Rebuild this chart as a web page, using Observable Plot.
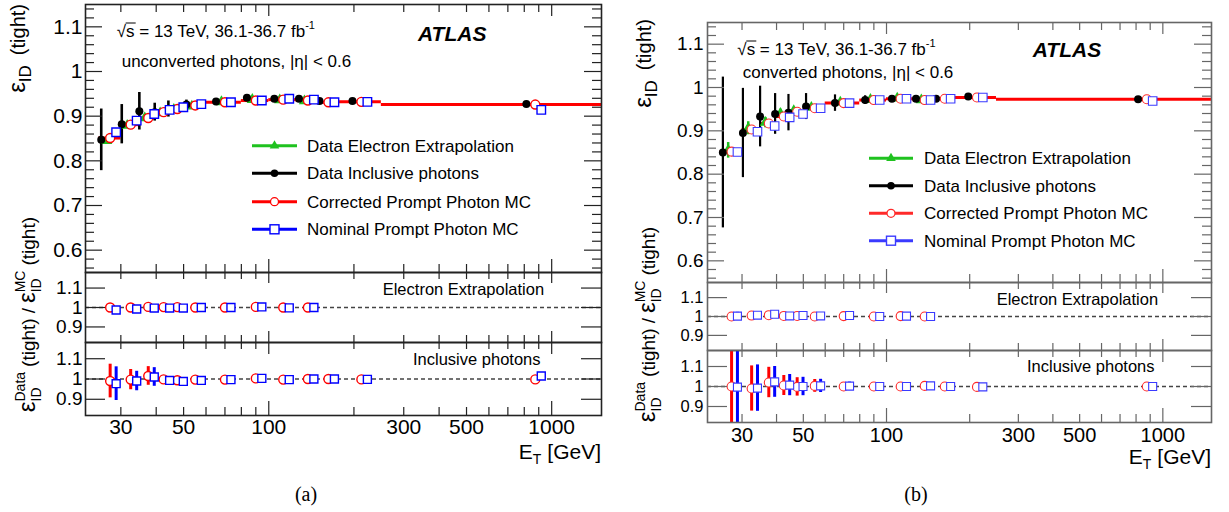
<!DOCTYPE html>
<html><head><meta charset="utf-8">
<script src="https://cdn.jsdelivr.net/npm/d3@7"></script>
<script src="https://cdn.jsdelivr.net/npm/@observablehq/plot@0.6"></script>
<style>
body{margin:0;background:#fff;}
#root{position:relative;width:1229px;height:512px;overflow:hidden;background:#fff;}
</style></head><body><div id="root"></div>
<script>
// ---------- data ----------
const binLo     = [25, 30, 35, 40, 45, 50, 60, 80, 100, 125, 150, 175, 250];
const binHi     = [30, 35, 40, 45, 50, 60, 80, 100, 125, 150, 175, 250, 1500];
const binCenter = [27.5, 32.5, 37.5, 42.5, 47.5, 55, 70, 90, 112.5, 137.5, 162.5, 212.5, 875];

// (a) unconverted photons
const unconvElectron     = [0.845, 0.879, 0.896, 0.907, 0.915, 0.922, 0.932, 0.937, 0.936, 0.934];
const unconvElectronErr  = [0.006, 0.005, 0.004, 0.004, 0.003, 0.003, 0.003, 0.003, 0.003, 0.003];
const unconvInclusive    = [0.847, 0.882, 0.911, 0.909, 0.916, 0.926, 0.933, 0.941, 0.939, 0.939, 0.934, 0.934, 0.927];
const unconvInclusiveErr = [0.069, 0.044, 0.042, 0.020, 0.018, 0.010, 0.004, 0.003, 0.003, 0.003, 0.003, 0.003, 0.003];
const unconvCorrMC       = [0.851, 0.881, 0.896, 0.909, 0.916, 0.924, 0.931, 0.935, 0.937, 0.935, 0.931, 0.932, 0.926];
const unconvNomMC        = [0.864, 0.890, 0.905, 0.914, 0.920, 0.927, 0.931, 0.935, 0.939, 0.937, 0.931, 0.932, 0.914];
const unconvRatioElecCorr = [1.000, 1.000, 1.003, 1.002, 1.002, 1.000, 1.000, 1.003, 1.000, 1.000];
const unconvRatioElecNom  = [0.987, 0.992, 0.997, 0.997, 0.997, 1.000, 1.000, 1.003, 0.998, 1.000];
const unconvRatioInclCorr    = [0.990, 0.997, 1.015, 0.998, 0.994, 0.997, 0.997, 1.003, 0.997, 1.000, 1.000, 0.998, 0.998];
const unconvRatioInclCorrErr = [0.083, 0.050, 0.046, 0.010, 0.008, 0.005, 0.003, 0.003, 0.003, 0.003, 0.003, 0.003, 0.003];
const unconvRatioInclNom     = [0.977, 0.990, 1.010, 0.993, 0.988, 0.993, 0.997, 1.003, 0.997, 1.000, 1.000, 0.998, 1.015];
const unconvRatioInclNomErr  = [0.083, 0.048, 0.046, 0.010, 0.008, 0.005, 0.003, 0.003, 0.003, 0.003, 0.003, 0.003, 0.003];

// (b) converted photons
const convElectron     = [0.855, 0.906, 0.919, 0.940, 0.946, 0.954, 0.966, 0.972, 0.975, 0.971];
const convElectronErr  = [0.018, 0.015, 0.012, 0.010, 0.008, 0.006, 0.005, 0.004, 0.004, 0.004];
const convInclusive    = [0.850, 0.895, 0.933, 0.939, 0.942, 0.956, 0.964, 0.971, 0.974, 0.974, 0.974, 0.979, 0.973];
const convInclusiveErr = [0.174, 0.103, 0.070, 0.047, 0.042, 0.030, 0.019, 0.010, 0.005, 0.005, 0.005, 0.005, 0.005];
const convCorrMC       = [0.852, 0.903, 0.917, 0.933, 0.944, 0.952, 0.964, 0.971, 0.974, 0.971, 0.974, 0.977, 0.973];
const convNomMC        = [0.851, 0.898, 0.911, 0.931, 0.939, 0.952, 0.964, 0.971, 0.974, 0.971, 0.974, 0.977, 0.969];
const convRatioElecCorr    = [1.000, 1.005, 1.007, 1.003, 1.003, 1.000, 1.002, 1.000, 1.002, 1.000];
const convRatioElecCorrErr = [0.020, 0.005, 0.004, 0.003, 0.003, 0.003, 0.003, 0.003, 0.003, 0.003];
const convRatioElecNom     = [1.002, 1.007, 1.012, 1.003, 1.005, 1.003, 1.005, 1.000, 1.002, 1.000];
const convRatioElecNomErr  = [0.020, 0.005, 0.004, 0.003, 0.003, 0.003, 0.003, 0.003, 0.003, 0.003];
const convRatioInclCorr    = [1.000, 0.990, 1.020, 1.005, 0.998, 1.003, 1.000, 1.000, 1.000, 1.003, 1.000, 0.998, 1.000];
const convRatioInclCorrErr = [0.200, 0.113, 0.076, 0.050, 0.046, 0.032, 0.020, 0.008, 0.005, 0.005, 0.005, 0.005, 0.005];
const convRatioInclNom     = [0.997, 0.992, 1.023, 1.007, 1.000, 1.003, 1.002, 1.000, 1.000, 1.003, 1.000, 0.998, 1.000];
const convRatioInclNomErr  = [0.200, 0.116, 0.077, 0.053, 0.046, 0.033, 0.020, 0.008, 0.005, 0.005, 0.005, 0.005, 0.005];

// axis ticks
const xMajorTicks = [100, 1000];
const xMinorTicks = [30, 40, 50, 60, 70, 80, 90, 200, 300, 400, 500, 600, 700, 800, 900];
const xLabelTicks = [30, 50, 100, 300, 500, 1000];
const yMainMajor  = [0.6, 0.7, 0.8, 0.9, 1.0, 1.1];
const yMainMinor  = [0.56,0.58,0.62,0.64,0.66,0.68,0.72,0.74,0.76,0.78,0.82,0.84,0.86,0.88,0.92,0.94,0.96,0.98,1.02,1.04,1.06,1.08,1.12,1.14];
const yRatioMajor = [0.9, 1.0, 1.1];
const legendNames = ["Data Electron Extrapolation", "Data Inclusive photons", "Corrected Prompt Photon MC", "Nominal Prompt Photon MC"];

// ---------- style ----------
const FONT = '"Liberation Sans", Arial, Helvetica, sans-serif';
const GREEN = "#1fc21f", RED = "#ff0000", BLUE = "#0000ff";
const OFF = {black: 0.93, green: 0.972, red: 1.0, blue: 1.05};
const X_DOMAIN = [22.5, 1500];
const root = document.getElementById("root");

function rowsMain(elec, elecErr, incl, inclErr, corr, nom) {
  return binCenter.map((c, i) => ({c, lo: binLo[i], hi: binHi[i],
    elec: elec[i], elecErr: elecErr[i], incl: incl[i], inclErr: inclErr[i], corr: corr[i], nom: nom[i]}));
}
function rowsRatio(corr, corrErr, nom, nomErr) {
  return corr.map((v, i) => ({c: binCenter[i], corr: v, corrErr: corrErr ? corrErr[i] : 0, nom: nom[i], nomErr: nomErr ? nomErr[i] : 0}));
}

function frameAxes(o) {
  const none = () => "";
  const t = (fn, ticks, anchor, len) => fn({ticks, anchor, tickSize: -len, tickFormat: none, stroke: o.color, strokeWidth: o.sw, label: null});
  const m = [];
  m.push(t(Plot.axisY, o.yMajor, "left", o.yMaj));
  m.push(t(Plot.axisY, o.yMajor, "right", o.yMajR));
  if (o.yMinor) {
    m.push(t(Plot.axisY, o.yMinor, "left", o.yMin));
    m.push(t(Plot.axisY, o.yMinor, "right", o.yMinR));
  }
  m.push(t(Plot.axisX, xMajorTicks, "bottom", o.xBot[0]));
  m.push(t(Plot.axisX, xMinorTicks, "bottom", o.xBot[1]));
  m.push(t(Plot.axisX, xMajorTicks, "top", o.xTop[0]));
  m.push(t(Plot.axisX, xMinorTicks, "top", o.xTop[1]));
  m.push(Plot.axisY({ticks: o.yMajor, anchor: "left", tickSize: 0, tickPadding: o.yPad, label: null,
    tickFormat: d => d === 1 ? "1" : d.toFixed(1), fill: "#000", fontSize: o.yFont}));
  if (o.xLabels) {
    m.push(Plot.axisX({ticks: xLabelTicks, anchor: "bottom", tickSize: 0, tickPadding: o.xPad, label: null,
      tickFormat: d => String(d), fill: "#000", fontSize: o.xFont}));
  }
  m.push(Plot.frame({stroke: o.color, strokeWidth: o.fsw}));
  return m;
}

function addPlot(g, yDomain, marks) {
  const svg = Plot.plot({
    width: g.w + g.mL + g.mR, height: g.h + g.mT + g.mB,
    marginLeft: g.mL, marginRight: g.mR, marginTop: g.mT, marginBottom: g.mB,
    x: {type: "log", domain: X_DOMAIN},
    y: {domain: yDomain},
    style: {fontFamily: FONT, fontSize: "21px", background: "transparent", overflow: "visible", color: "#000"},
    marks
  });
  svg.style.position = "absolute";
  svg.style.left = (g.left - g.mL) + "px";
  svg.style.top = (g.top - g.mT) + "px";
  svg.style.maxWidth = "none";
  root.appendChild(svg);
}

function mainMarks(rows, s) {
  const er = rows.filter(r => r.elec != null);
  return [
    Plot.ruleY(rows, {y: "corr", x1: "lo", x2: "hi", stroke: RED, strokeWidth: 3}),
    Plot.ruleX(er, {x: r => r.c * OFF.green, y1: r => r.elec - r.elecErr, y2: r => r.elec + r.elecErr, stroke: GREEN, strokeWidth: 2.5}),
    Plot.ruleX(rows, {x: r => r.c * OFF.black, y1: r => r.incl - r.inclErr, y2: r => r.incl + r.inclErr, stroke: "#000", strokeWidth: s.ebw}),
    Plot.dot(er, {x: r => r.c * OFF.green, y: "elec", symbol: "triangle", fill: GREEN, r: 4.2}),
    Plot.dot(rows, {x: r => r.c * OFF.black, y: "incl", symbol: "circle", fill: "#000", r: 4}),
    Plot.dot(rows, {x: r => r.c * OFF.red, y: "corr", symbol: "circle", fill: "#fff", stroke: s.red, strokeWidth: s.msw, r: 4.5}),
    Plot.dot(rows, {x: r => r.c * OFF.blue, y: "nom", symbol: "square", fill: "#fff", stroke: s.blue, strokeWidth: s.msw, r: 4.8})
  ];
}
function ratioMarks(rows, s) {
  return [
    Plot.ruleY([1], {stroke: "#444", strokeWidth: 1.3, strokeDasharray: "4,3"}),
    Plot.ruleX(rows, {x: r => r.c * OFF.red, y1: r => r.corr - r.corrErr, y2: r => r.corr + r.corrErr, stroke: RED, strokeWidth: 3, clip: true}),
    Plot.ruleX(rows, {x: r => r.c * OFF.blue, y1: r => r.nom - r.nomErr, y2: r => r.nom + r.nomErr, stroke: BLUE, strokeWidth: 3, clip: true}),
    Plot.dot(rows, {x: r => r.c * OFF.red, y: "corr", symbol: "circle", fill: "#fff", stroke: s.red, strokeWidth: s.msw, r: 4.5}),
    Plot.dot(rows, {x: r => r.c * OFF.blue, y: "nom", symbol: "square", fill: "#fff", stroke: s.blue, strokeWidth: s.msw, r: 4.5})
  ];
}

function buildPanel(P, rowsM, rowsR1, rowsR2, s) {
  const base = {left: P.L, w: P.R - P.L, mL: 75, mR: 4, mT: 3, mB: 3};
  const ax = {color: s.frame, sw: 1.2, fsw: 1.6, yPad: s.yPad, xPad: s.xPad, xFont: s.xFont};
  addPlot({...base, top: P.top, h: P.mainBot - P.top}, [0.55, 1.15], [
    ...mainMarks(rowsM, s),
    ...frameAxes({...ax, yFont: s.yFont, yMajor: yMainMajor, yMinor: yMainMinor, yMaj: 17, yMajR: 18, yMin: 9, yMinR: 10, xBot: [13, 8], xTop: [11, 7]})
  ]);
  addPlot({...base, top: P.mainBot, h: P.r1Bot - P.mainBot}, [0.82, 1.18], [
    ...ratioMarks(rowsR1, s),
    ...frameAxes({...ax, yFont: s.rFont, yMajor: yRatioMajor, yMaj: 20, yMajR: 21, xBot: [11, 7], xTop: [10, 6]})
  ]);
  addPlot({...base, top: P.r1Bot, h: P.r2Bot - P.r1Bot, mB: 45}, [0.82, 1.18], [
    ...ratioMarks(rowsR2, s),
    ...frameAxes({...ax, yFont: s.rFont, yMajor: yRatioMajor, yMaj: 20, yMajR: 21, xBot: [14, 8], xTop: [11, 6], xLabels: true})
  ]);
}

const PA = {L: 85, R: 601, top: 4, mainBot: 272, r1Bot: 342, r2Bot: 415};
const PB = {L: 707, R: 1211, top: 22, mainBot: 282, r1Bot: 350, r2Bot: 422};
const SA = {frame: "#222", red: RED, blue: BLUE, msw: 1.4, ebw: 2.6, yPad: 3, xPad: 4, yFont: 21, rFont: 19, xFont: 21};
const SB = {frame: "#666", red: "#ff2a2a", blue: "#3a3aff", msw: 1.1, ebw: 2.2, yPad: 4, xPad: 5, yFont: 19, rFont: 16.5, xFont: 20};

buildPanel(PA,
  rowsMain(unconvElectron, unconvElectronErr, unconvInclusive, unconvInclusiveErr, unconvCorrMC, unconvNomMC),
  rowsRatio(unconvRatioElecCorr, null, unconvRatioElecNom, null),
  rowsRatio(unconvRatioInclCorr, unconvRatioInclCorrErr, unconvRatioInclNom, unconvRatioInclNomErr), SA);
buildPanel(PB,
  rowsMain(convElectron, convElectronErr, convInclusive, convInclusiveErr, convCorrMC, convNomMC),
  rowsRatio(convRatioElecCorr, convRatioElecCorrErr, convRatioElecNom, convRatioElecNomErr),
  rowsRatio(convRatioInclCorr, convRatioInclCorrErr, convRatioInclNom, convRatioInclNomErr), SB);

// ---------- text overlay ----------
const ov = d3.select(root).append("svg").attr("width", 1229).attr("height", 512)
  .style("position", "absolute").style("left", "0px").style("top", "0px")
  .attr("font-family", FONT);

function rich(pieces) {
  const grp = ov.append("g");
  let x = 0, held = 0;
  for (const p of pieces) {
    if (p.gap) { x += p.gap; continue; }
    const el = grp.append("text").attr("x", x).attr("y", p.y || 0).attr("font-size", p.size)
      .attr("font-style", p.italic ? "italic" : null).attr("font-weight", p.bold ? "bold" : null)
      .attr("fill", "#000").text(p.t);
    const w = el.node().getComputedTextLength();
    if (p.hold) held = Math.max(held, w);
    else { x += Math.max(w, held); held = 0; }
  }
  return {grp, len: x};
}
function horiz(x, y, pieces) { const r = rich(pieces); r.grp.attr("transform", `translate(${x},${y})`); return r; }
function vertTop(x, yTop, pieces) { const r = rich(pieces); r.grp.attr("transform", `translate(${x},${yTop + r.len}) rotate(-90)`); return r; }

const mainTitle = [{t: "ε", size: 24}, {t: "ID", size: 17, y: 6}, {gap: 10}, {t: "(tight)", size: 20}];
const ratioTitle = [{t: "ε", size: 24}, {t: "Data", size: 14, y: -10, hold: true}, {t: "ID", size: 14, y: 6},
  {gap: 5}, {t: "(tight)", size: 19}, {gap: 5}, {t: "/", size: 19}, {gap: 5},
  {t: "ε", size: 24}, {t: "MC", size: 14, y: -10, hold: true}, {t: "ID", size: 14, y: 6}, {gap: 5}, {t: "(tight)", size: 19}];
const etTitle = [{t: "E", size: 21}, {t: "T", size: 14, y: 5}, {gap: 6}, {t: "[GeV]", size: 21}];

function panelText(P, o) {
  vertTop(o.yTitleX, o.yTitleTop, mainTitle);
  vertTop(o.rTitleX, o.rTitleTop, ratioTitle);
  const et = rich(etTitle); et.grp.attr("transform", `translate(${P.R - et.len},${o.etY})`);
  horiz(o.sX, o.sY, [{t: "√s = 13 TeV, 36.1-36.7 fb", size: 17}, {t: "-1", size: 11, y: -8}]);
  ov.append("line").attr("x1", o.sX + 9).attr("x2", o.sX + 19).attr("y1", o.sY - 13.5).attr("y2", o.sY - 13.5)
    .attr("stroke", "#000").attr("stroke-width", 1);
  horiz(o.phX, o.phY, [{t: o.photons, size: 17}]);
  horiz(o.atX, o.atY, [{t: "ATLAS", size: 21, bold: true, italic: true}]);
  horiz(o.eeX, o.eeY, [{t: "Electron Extrapolation", size: 16.5}]);
  horiz(o.ipX, o.ipY, [{t: "Inclusive photons", size: 16.5}]);
  // legend
  const colors = [GREEN, "#000", o.red, o.blue];
  o.legY.forEach((y, i) => {
    ov.append("line").attr("x1", o.legX1).attr("x2", o.legX2).attr("y1", y).attr("y2", y)
      .attr("stroke", colors[i]).attr("stroke-width", 3);
    const cx = (o.legX1 + o.legX2) / 2;
    if (i === 0) ov.append("path").attr("d", d3.symbol(d3.symbolTriangle, 40)()).attr("transform", `translate(${cx},${y})`).attr("fill", GREEN);
    if (i === 1) ov.append("circle").attr("cx", cx).attr("cy", y).attr("r", 3.8).attr("fill", "#000");
    if (i === 2) ov.append("circle").attr("cx", cx).attr("cy", y).attr("r", 4).attr("fill", "#fff").attr("stroke", o.red).attr("stroke-width", 1.3);
    if (i === 3) ov.append("rect").attr("x", cx - 4.5).attr("y", y - 4.5).attr("width", 9).attr("height", 9).attr("fill", "#fff").attr("stroke", o.blue).attr("stroke-width", 1.4);
    horiz(o.legTX, y + 6, [{t: legendNames[i], size: 17}]);
  });
  ov.append("text").attr("x", o.capX).attr("y", 501).attr("text-anchor", "middle")
    .attr("font-family", '"Liberation Serif", "Times New Roman", serif').attr("font-size", 20).text(o.cap);
}

panelText(PA, {yTitleX: 25, yTitleTop: 4, rTitleX: 35, rTitleTop: 217, etY: 459,
  sX: 116.7, sY: 36.5, photons: "unconverted photons, |η| < 0.6", phX: 121.7, phY: 67, atX: 418, atY: 40.5,
  eeX: 382.7, eeY: 295, ipX: 413, ipY: 364.5,
  legX1: 252, legX2: 297, legTX: 307, legY: [145.7, 173.3, 201.7, 229.3], red: RED, blue: BLUE, capX: 306, cap: "(a)"});
panelText(PB, {yTitleX: 651, yTitleTop: 19, rTitleX: 655, rTitleTop: 227, etY: 464,
  sX: 737.3, sY: 54.5, photons: "converted photons, |η| < 0.6", phX: 742.7, phY: 78, atX: 1032.7, atY: 56.5,
  eeX: 996.7, eeY: 305, ipX: 1027, ipY: 371.5,
  legX1: 869, legX2: 913, legTX: 924, legY: [158.3, 185.7, 213.3, 240.7], red: "#ff2a2a", blue: "#3a3aff", capX: 916, cap: "(b)"});
</script></body></html>
